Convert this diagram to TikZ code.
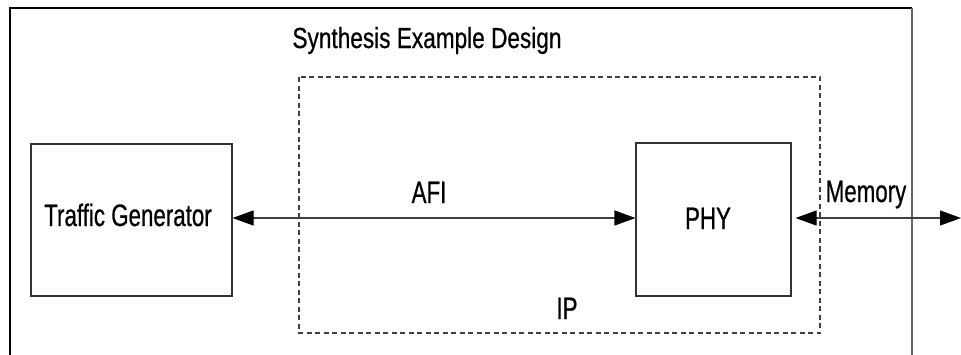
\documentclass[tikz,border=0pt]{standalone}
\usepackage{fontspec}
\setmainfont[FakeStretch=0.72,FakeBold=0.6]{Liberation Sans}
\newfontfamily\titlefont[FakeStretch=0.78,FakeBold=0.6]{Liberation Sans}
\usetikzlibrary{arrows.meta}
\begin{document}
\begin{tikzpicture}[x=1bp,y=-1bp,
  blockbox/.style={draw=black!80,line width=1.1bp,inner sep=0pt},
  lbl/.style={inner sep=0pt,anchor=base,font=\fontsize{31bp}{35bp}\selectfont},
  conn/.style={line width=1.1bp,draw=black!75,{Triangle[length=21bp,width=15bp,fill=black,color=black]}-{Triangle[length=21bp,width=15bp,fill=black,color=black]}},
  ipbox/.style={draw=black!75,line width=1.1bp,dash pattern=on 5bp off 3.5bp}]
\useasboundingbox (0,0) rectangle (961,354);
% outer box (open at bottom)
\draw[line width=1.3bp,black] (10,356) -- (10,8) -- (912,8);
\draw[line width=1.3bp,black!60] (912,8) -- (912,356);
\node[lbl,font=\titlefont\fontsize{29bp}{33bp}\selectfont] (title) at (427,48) {Synthesis Example Design};
% IP dashed box
\draw[ipbox] (299,77) rectangle (820,333);
\node[lbl] (ip) at (567,319) {IP};
% blocks
\node[blockbox,minimum width=201bp,minimum height=152bp] (tg) at (131.5,220) {};
\node[lbl] at (128,226) {Traffic Generator};
\node[blockbox,minimum width=155bp,minimum height=153bp] (phy) at (713.5,219.5) {};
\node[lbl] at (708,229) {PHY};
\coordinate (memend) at (961,218);
% connectors
\draw[conn] (tg.east |- 0,218) -- (phy.west |- 0,218);
\draw[conn,shorten <=4bp] (phy.east |- 0,218) -- (memend);
\node[lbl] (afi) at (429,203) {AFI};
\node[lbl] (mem) at (866,202) {Memory};
\end{tikzpicture}
\end{document}
